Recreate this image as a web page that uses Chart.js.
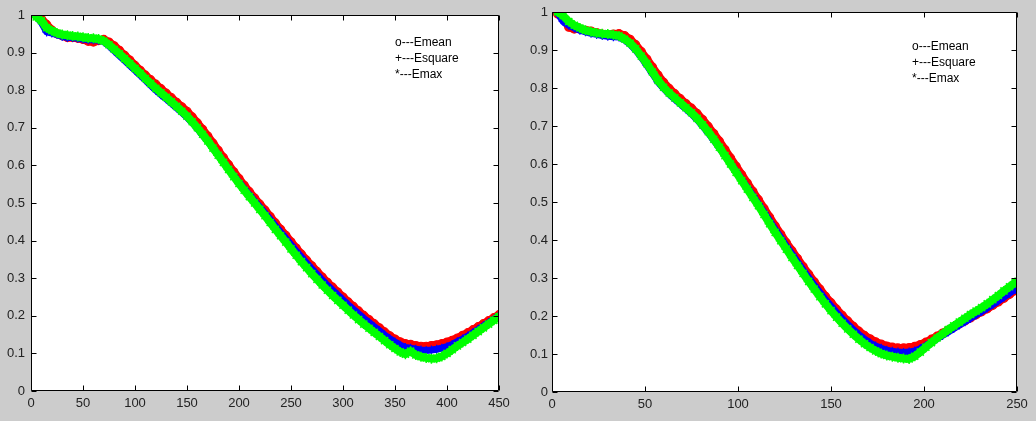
<!DOCTYPE html>
<html>
<head>
<meta charset="utf-8">
<script src="https://cdn.jsdelivr.net/npm/chart.js@4/dist/chart.umd.min.js"></script>
<style>
html,body{margin:0;padding:0;background:#cccccc;}
#wrap{position:relative;width:1036px;height:421px;overflow:hidden;background:#cccccc;}
.box{position:absolute;top:0;height:421px;}
</style>
</head>
<body>
<div id="wrap">
  <div class="box" style="left:0;width:518px;"><canvas id="c1" width="518" height="421"></canvas></div>
  <div class="box" style="left:518px;width:518px;"><canvas id="c2" width="518" height="421"></canvas></div>
</div>
<script>
// ---------- Left panel data ----------
const xLeft = [5,10,15,20,25,30,35,40,45,50,55,60,65,70,75,80,85,90,95,100,
105,110,115,120,125,130,135,140,145,150,155,160,165,170,175,180,185,190,195,200,
205,210,215,220,225,230,235,240,245,250,255,260,265,270,275,280,285,290,295,300,
305,310,315,320,325,330,335,340,345,350,355,360,365,370,375,380,385,390,395,400,
405,410,415,420,425,430,435,440,445,450];
const leftEmean = [1.000,0.990,0.975,0.960,0.950,0.945,0.940,0.940,0.938,0.935,0.930,0.928,0.932,0.935,0.928,0.918,0.906,0.893,0.880,0.866,
0.853,0.840,0.828,0.816,0.804,0.792,0.780,0.768,0.756,0.744,0.729,0.713,0.696,0.678,0.659,0.640,0.621,0.602,0.583,0.565,
0.547,0.530,0.513,0.497,0.481,0.464,0.447,0.430,0.414,0.397,0.380,0.364,0.348,0.333,0.318,0.303,0.289,0.276,0.263,0.250,
0.237,0.225,0.213,0.201,0.190,0.179,0.168,0.157,0.147,0.138,0.131,0.126,0.124,0.121,0.119,0.119,0.121,0.123,0.126,0.130,
0.135,0.141,0.148,0.155,0.163,0.171,0.179,0.187,0.195,0.203];
const leftEsquare = [0.998,0.980,0.955,0.952,0.948,0.943,0.940,0.940,0.938,0.936,0.934,0.934,0.933,0.929,0.918,0.905,0.892,0.879,0.866,0.853,
0.840,0.827,0.813,0.800,0.788,0.777,0.765,0.753,0.741,0.728,0.714,0.698,0.681,0.664,0.646,0.628,0.609,0.591,0.573,0.555,
0.538,0.522,0.505,0.489,0.473,0.456,0.439,0.422,0.406,0.389,0.372,0.356,0.340,0.325,0.310,0.295,0.281,0.268,0.255,0.242,
0.229,0.217,0.205,0.193,0.182,0.171,0.160,0.149,0.139,0.130,0.122,0.116,0.114,0.111,0.109,0.108,0.109,0.111,0.114,0.118,
0.124,0.131,0.138,0.146,0.155,0.164,0.173,0.182,0.191,0.200];
const leftEmax = [0.995,0.985,0.966,0.958,0.952,0.948,0.946,0.944,0.943,0.941,0.939,0.938,0.936,0.931,0.921,0.909,0.897,0.884,0.871,0.858,
0.845,0.831,0.818,0.805,0.793,0.781,0.769,0.757,0.744,0.731,0.716,0.700,0.683,0.665,0.646,0.627,0.608,0.589,0.570,0.552,
0.534,0.517,0.500,0.483,0.466,0.448,0.430,0.413,0.396,0.378,0.361,0.344,0.328,0.312,0.297,0.282,0.268,0.254,0.241,0.228,
0.215,0.202,0.190,0.178,0.167,0.156,0.145,0.134,0.123,0.113,0.104,0.098,0.106,0.096,0.091,0.088,0.086,0.087,0.092,0.100,
0.110,0.120,0.129,0.138,0.148,0.158,0.168,0.178,0.188,0.198];

// ---------- Right panel data ----------
const xRight = [3,6,9,12,15,18,21,24,27,30,33,36,39,42,45,48,51,54,57,60,
63,66,69,72,75,78,81,84,87,90,93,96,99,102,105,108,111,114,117,120,
123,126,129,132,135,138,141,144,147,150,153,156,159,162,165,168,171,174,177,180,
183,186,189,192,195,198,201,204,207,210,213,216,219,222,225,228,231,234,237,240,
243,246,249];
const rightEmean = [0.995,0.985,0.960,0.955,0.955,0.952,0.950,0.946,0.942,0.940,0.942,0.943,0.938,0.928,0.914,0.896,0.876,0.855,0.834,0.815,
0.799,0.785,0.772,0.759,0.747,0.733,0.717,0.699,0.680,0.660,0.638,0.616,0.594,0.572,0.550,0.528,0.506,0.483,0.460,0.437,
0.415,0.393,0.372,0.351,0.330,0.310,0.290,0.271,0.252,0.235,0.218,0.202,0.187,0.173,0.160,0.149,0.140,0.132,0.126,0.121,
0.118,0.116,0.116,0.117,0.120,0.125,0.131,0.139,0.147,0.155,0.163,0.171,0.179,0.187,0.195,0.203,0.211,0.219,0.228,0.237,
0.247,0.257,0.267];
const rightEsquare = [0.998,0.975,0.965,0.958,0.952,0.948,0.944,0.941,0.938,0.936,0.935,0.934,0.927,0.915,0.900,0.881,0.860,0.838,0.816,0.799,
0.784,0.771,0.758,0.745,0.732,0.717,0.700,0.682,0.663,0.643,0.622,0.601,0.580,0.559,0.538,0.517,0.495,0.473,0.450,0.428,
0.406,0.384,0.363,0.342,0.321,0.301,0.281,0.262,0.243,0.226,0.209,0.193,0.178,0.164,0.151,0.139,0.129,0.121,0.115,0.110,
0.107,0.105,0.104,0.105,0.108,0.114,0.122,0.131,0.140,0.149,0.158,0.167,0.176,0.185,0.194,0.203,0.212,0.221,0.230,0.240,
0.250,0.260,0.270];
const rightEmax = [1.000,0.990,0.975,0.965,0.958,0.952,0.948,0.945,0.943,0.942,0.940,0.937,0.929,0.918,0.903,0.884,0.864,0.842,0.820,0.802,
0.787,0.774,0.761,0.748,0.735,0.720,0.703,0.685,0.665,0.644,0.622,0.600,0.578,0.556,0.534,0.512,0.490,0.467,0.443,0.420,
0.398,0.376,0.354,0.333,0.312,0.291,0.271,0.251,0.232,0.214,0.197,0.181,0.166,0.152,0.139,0.127,0.117,0.108,0.101,0.096,
0.093,0.090,0.088,0.087,0.094,0.105,0.118,0.130,0.142,0.153,0.164,0.174,0.184,0.194,0.204,0.213,0.222,0.232,0.243,0.254,
0.266,0.277,0.288];

const yTicks = [0,0.1,0.2,0.3,0.4,0.5,0.6,0.7,0.8,0.9,1];
const legendLines = ['o---Emean','+---Esquare','*---Emax'];

function pts(xs, ys){ return xs.map((x,i)=>({x:x, y:ys[i]})); }

const axesPlugin = {
  id:'matlabAxes',
  beforeDatasetsDraw(chart){
    const a = chart.chartArea, ctx = chart.ctx;
    ctx.save();
    ctx.fillStyle = '#ffffff';
    ctx.fillRect(a.left, a.top, a.right-a.left, a.bottom-a.top);
    ctx.restore();
  },
  afterDraw(chart, args, opts){
    const a = chart.chartArea, ctx = chart.ctx;
    const xs = chart.scales.x, ys = chart.scales.y;
    ctx.save();
    ctx.strokeStyle = '#000000';
    ctx.lineWidth = 1;
    const L = Math.round(a.left)+0.5, R = Math.round(a.right)-0.5, T = Math.round(a.top)+0.5, B = Math.round(a.bottom)-0.5;
    ctx.beginPath();
    ctx.rect(L, T, R-L, B-T);
    xs.ticks.forEach(t=>{
      const p = Math.round(xs.getPixelForValue(t.value))+0.5;
      ctx.moveTo(p,B); ctx.lineTo(p,B-5);
      ctx.moveTo(p,T); ctx.lineTo(p,T+5);
    });
    ys.ticks.forEach(t=>{
      const p = Math.round(ys.getPixelForValue(t.value))+0.5;
      ctx.moveTo(L,p); ctx.lineTo(L+5,p);
      ctx.moveTo(R,p); ctx.lineTo(R-5,p);
    });
    ctx.stroke();
    // legend text
    ctx.fillStyle = '#000000';
    ctx.font = '12px "Liberation Sans", Arial, sans-serif';
    ctx.textBaseline = 'middle';
    ctx.textAlign = 'left';
    legendLines.forEach((s,i)=>{
      ctx.fillText(s, opts.lx, opts.ly + i*opts.lh);
    });
    ctx.restore();
  }
};

function makeChart(id, xs, mean, square, max, xMax, padL, padT, padR, yW, xH, yPad, lx, ly){
  return new Chart(document.getElementById(id), {
    type:'scatter',
    data:{
      datasets:[
        {label:'Emean', data:pts(xs,mean), showLine:true, borderWidth:8, borderCapStyle:'round', borderJoinStyle:'round',
         pointStyle:'circle', pointRadius:4, borderColor:'#ff0000', backgroundColor:'rgba(255,255,255,0)', pointBorderColor:'#ff0000', pointBorderWidth:1.2, order:3},
        {label:'Esquare', data:pts(xs,square), showLine:true, borderWidth:7, borderCapStyle:'round', borderJoinStyle:'round',
         pointStyle:'cross', pointRadius:4.5, borderColor:'#0000ff', backgroundColor:'#0000ff', pointBorderColor:'#0000ff', pointBorderWidth:1.2, order:2},
        {label:'Emax', data:pts(xs,max), showLine:true, borderWidth:8, borderCapStyle:'round', borderJoinStyle:'round',
         pointStyle:'star', pointRadius:5, borderColor:'#00ff00', backgroundColor:'#00ff00', pointBorderColor:'#00ff00', pointBorderWidth:1.5, order:1}
      ]
    },
    options:{
      responsive:false,
      animation:false,
      devicePixelRatio:1,
      events:[],
      layout:{padding:{left:padL, top:padT, right:padR, bottom:0}},
      plugins:{legend:{display:false}, tooltip:{enabled:false}, matlabAxes:{lx:lx, ly:ly, lh:16}},
      scales:{
        x:{type:'linear', min:0, max:xMax,
           afterFit(s){ s.height = xH; },
           grid:{display:true, drawOnChartArea:false, drawTicks:false, color:'rgba(0,0,0,0)'},
           border:{display:false},
           ticks:{stepSize:50, padding:5, color:'#222222', maxRotation:0, autoSkip:false,
                  font:{family:'"Liberation Sans", Arial, sans-serif', size:13}}},
        y:{type:'linear', min:0, max:1,
           afterFit(s){ s.width = yW; },
           afterBuildTicks(s){ s.ticks = yTicks.map(v=>({value:v})); },
           grid:{display:true, drawOnChartArea:false, drawTicks:false, color:'rgba(0,0,0,0)'},
           border:{display:false},
           ticks:{padding:yPad, color:'#222222', autoSkip:false,
                  callback:(v)=>String(Math.round(v*10)/10),
                  font:{family:'"Liberation Sans", Arial, sans-serif', size:13}}}
      }
    },
    plugins:[axesPlugin]
  });
}

makeChart('c1', xLeft, leftEmean, leftEsquare, leftEmax, 450, 0, 15, 19, 31, 30, 6, 395, 43);
makeChart('c2', xRight, rightEmean, rightEsquare, rightEmax, 250, 0, 12, 19, 34, 29, 4, 394, 47);
</script>
</body>
</html>
